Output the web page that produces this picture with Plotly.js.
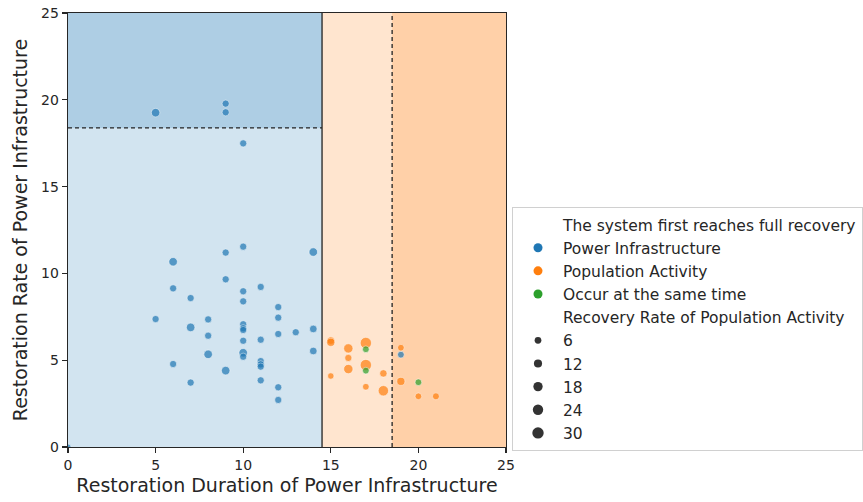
<!DOCTYPE html>
<html>
<head>
<meta charset="utf-8">
<script src="https://cdn.plot.ly/plotly-3.0.1.min.js"></script>
<style>html,body{margin:0;padding:0;background:#fff;}#chart{width:863px;height:502px;}</style>
</head>
<body>
<div id="chart"></div>
<script>
// ---- data ----
const powerX = [5, 9, 9, 10, 6, 9, 10, 14, 9, 6, 10, 11, 7, 10, 12, 12, 5, 8, 7, 10, 10, 10, 14, 13, 8, 12, 10, 11, 14, 8, 10, 10, 6, 11, 11, 11, 9, 7, 11, 12, 12, 19, 0];
const powerY = [19.26, 19.78, 19.28, 17.49, 10.67, 11.2, 11.54, 11.23, 9.66, 9.14, 8.97, 9.22, 8.58, 8.39, 8.06, 7.45, 7.37, 7.35, 6.89, 7.07, 6.84, 6.74, 6.8, 6.61, 6.41, 6.51, 6.12, 6.18, 5.53, 5.34, 5.43, 5.2, 4.78, 4.95, 4.76, 4.63, 4.4, 3.71, 3.84, 3.44, 2.71, 5.32, 0];
const powerRate = [14, 8, 8, 8, 14, 8, 8, 14, 8, 8, 8, 8, 8, 8, 8, 8, 8, 8, 14, 8, 8, 8, 10, 8, 8, 8, 8, 8, 10, 14, 14, 8, 8, 8, 8, 8, 14, 8, 8, 8, 8, 6, 3];

const popX = [15, 15, 16, 17, 16, 17, 16, 15, 18, 17, 18, 19, 19, 20, 21];
const popY = [6.13, 6.03, 5.68, 5.99, 5.13, 4.72, 4.49, 4.09, 4.24, 3.47, 3.24, 5.72, 3.78, 2.92, 2.92];
const popRate = [10, 12, 18, 30, 8, 30, 18, 5, 9, 6, 24, 6, 12, 6, 7];

const sameX = [17, 17, 20];
const sameY = [5.63, 4.40, 3.73];
const sameRate = [6, 6, 6];

const sizeLevels = [6, 12, 18, 24, 30];
const seriesNames = ["Power Infrastructure", "Population Activity", "Occur at the same time"];
const hueTitle = "The system first reaches full recovery";
const sizeTitle = "Recovery Rate of Population Activity";
const xTickVals = [0, 5, 10, 15, 20, 25];
const yTickVals = [0, 5, 10, 15, 20, 25];
const powerLimitX = 14.5;   // solid vertical line
const popLimitX = 18.5;     // dashed vertical line
const powerLimitY = 18.38;  // dashed horizontal line

// ---- styling ----
const colors = ["#1f77b4", "#ff7f0e", "#2ca02c"];
const FONT = "DejaVu Sans, sans-serif";
const TXT = "#262626";
const vmin = 3, vmax = 33;
function diam(v) {
  const a = 18 + (v - vmin) / (vmax - vmin) * 54;
  return Math.sqrt(a) * 1.39;
}

const traces = [];
function dataTrace(xs, ys, rates, color) {
  return {
    type: "scatter", mode: "markers", x: xs, y: ys, showlegend: false,
    marker: { color: color, size: rates.map(diam), line: { color: "#ffffff", width: 0.6 } },
    hoverinfo: "x+y"
  };
}
traces.push(dataTrace(powerX, powerY, powerRate, colors[0]));
traces.push(dataTrace(popX, popY, popRate, colors[1]));
traces.push(dataTrace(sameX, sameY, sameRate, colors[2]));

let g = 0;
function legendEntry(name, color, size) {
  g++;
  return {
    type: "scatter", mode: "markers", x: [null], y: [null], name: name,
    legendgroup: "g" + g, showlegend: true,
    marker: { color: color, size: size, line: { width: 0 } }
  };
}
traces.push(legendEntry(hueTitle, "rgba(0,0,0,0)", 8));
seriesNames.forEach((n, i) => traces.push(legendEntry(n, colors[i], 9)));
traces.push(legendEntry(sizeTitle, "rgba(0,0,0,0)", 8));
sizeLevels.forEach(v => traces.push(legendEntry(String(v), "#333333", diam(v))));

const shapes = [
  { type: "rect", xref: "x", yref: "y", x0: 0, x1: powerLimitX, y0: 0, y1: 25, fillcolor: "rgba(31,119,180,0.2)", line: { width: 0 }, layer: "below" },
  { type: "rect", xref: "x", yref: "y", x0: 0, x1: powerLimitX, y0: powerLimitY, y1: 25, fillcolor: "rgba(31,119,180,0.2)", line: { width: 0 }, layer: "below" },
  { type: "rect", xref: "x", yref: "y", x0: powerLimitX, x1: 25, y0: 0, y1: 25, fillcolor: "rgba(255,127,14,0.2)", line: { width: 0 }, layer: "below" },
  { type: "rect", xref: "x", yref: "y", x0: popLimitX, x1: 25, y0: 0, y1: 25, fillcolor: "rgba(255,127,14,0.2)", line: { width: 0 }, layer: "below" },
  { type: "line", xref: "x", yref: "y", x0: powerLimitX, x1: powerLimitX, y0: 0, y1: 25, line: { color: "#222", width: 1.3 }, layer: "below" },
  { type: "line", xref: "x", yref: "y", x0: popLimitX, x1: popLimitX, y0: 0, y1: 25, line: { color: "#222", width: 1.3, dash: "4px,3px" }, layer: "below" },
  { type: "line", xref: "x", yref: "y", x0: 0, x1: powerLimitX, y0: powerLimitY, y1: powerLimitY, line: { color: "#222", width: 1.3, dash: "4px,3px" }, layer: "below" }
];

const layout = {
  width: 863, height: 502,
  margin: { l: 68, r: 357, t: 13, b: 55, autoexpand: false },
  paper_bgcolor: "#ffffff", plot_bgcolor: "#ffffff",
  font: { family: FONT, size: 14, color: TXT },
  showlegend: true,
  xaxis: {
    range: [0, 25], tickvals: xTickVals, ticks: "outside", ticklen: 5, tickwidth: 1.2, tickcolor: TXT,
    showline: true, mirror: true, linecolor: TXT, linewidth: 1.3, showgrid: false, zeroline: false,
    tickfont: { family: FONT, size: 14, color: TXT },
    title: { text: "Restoration Duration of Power Infrastructure", font: { family: FONT, size: 19, color: TXT }, standoff: 6 }
  },
  yaxis: {
    range: [0, 25], tickvals: yTickVals, ticks: "outside", ticklen: 5, tickwidth: 1.2, tickcolor: TXT,
    showline: true, mirror: true, linecolor: TXT, linewidth: 1.3, showgrid: false, zeroline: false,
    tickfont: { family: FONT, size: 14, color: TXT },
    title: { text: "Restoration Rate of Power Infrastructure", font: { family: FONT, size: 19, color: TXT }, standoff: 8 }
  },
  legend: {
    x: 1.0137, xanchor: "left", y: 0.553, yanchor: "top",
    bgcolor: "#ffffff", bordercolor: "#d0d0d0", borderwidth: 1,
    font: { family: FONT, size: 15.5, color: TXT },
    traceorder: "grouped", tracegroupgap: 0, itemsizing: "trace", itemwidth: 40
  },
  shapes: shapes
};

Plotly.newPlot("chart", traces, layout, { displayModeBar: false, staticPlot: true });
</script>
</body>
</html>
